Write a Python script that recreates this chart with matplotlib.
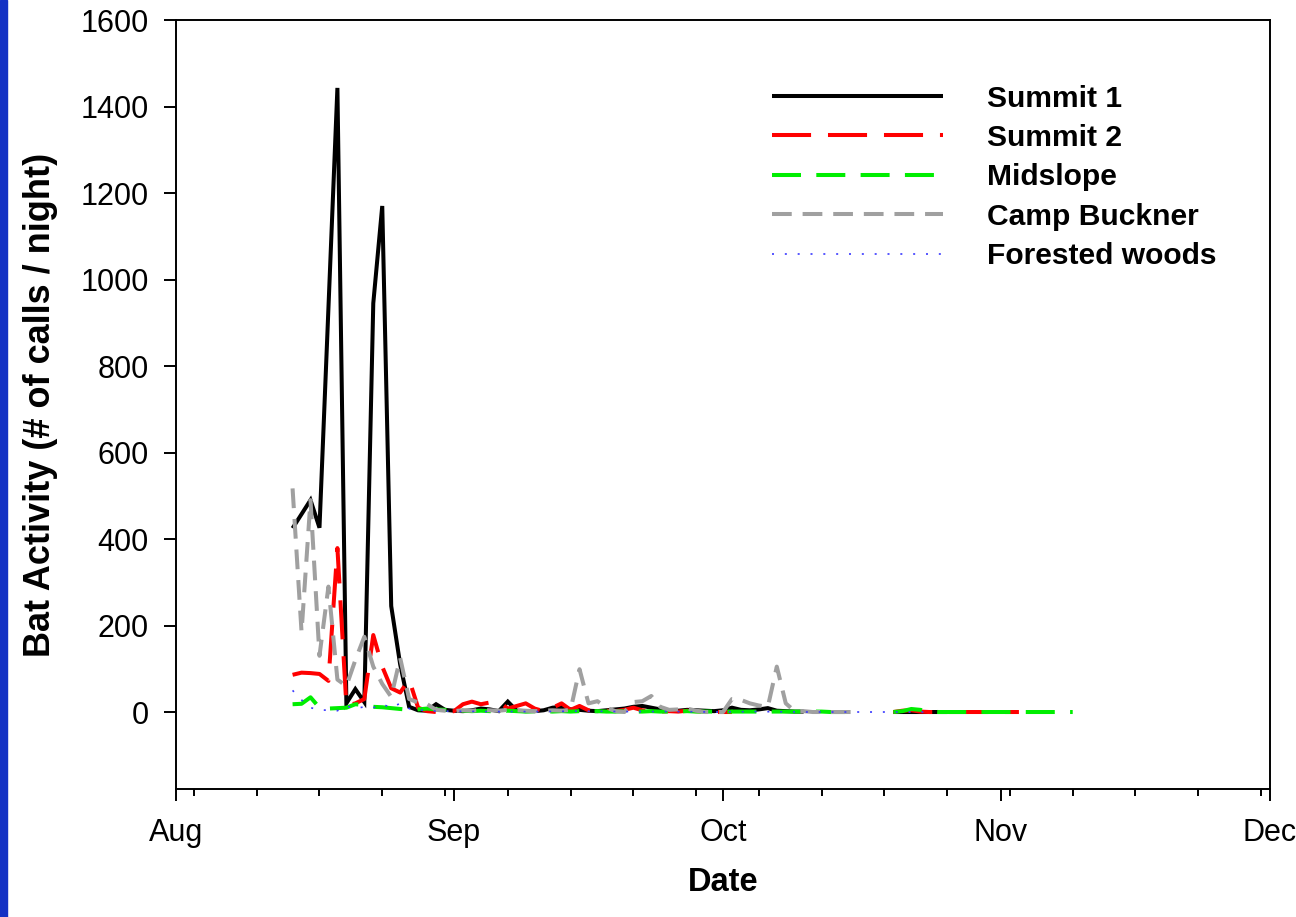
import matplotlib
matplotlib.use('Agg')
import matplotlib.pyplot as plt
import matplotlib.dates as mdates
from matplotlib.patches import Rectangle
import numpy as np
import pandas as pd

plt.rcParams['font.family'] = ['Liberation Sans', 'DejaVu Sans']

YEAR = 2008
NA = np.nan

# ---------------- data (date "MM-DD", value) ----------------
s1_dates = ["08-14", "08-16", "08-17", "08-19", "08-20", "08-21", "08-22", "08-23", "08-24", "08-25",
            "08-26", "08-27", "08-28", "08-29", "08-30", "08-31",
            "09-01", "09-02", "09-03", "09-04", "09-05", "09-06", "09-07", "09-08", "09-09", "09-10",
            "09-11", "09-12", "09-13", "09-14", "09-15", "09-16", "09-17", "09-18", "09-19", "09-20",
            "09-21", "09-22", "09-23", "09-24", "09-25", "09-26", "09-27", "09-28", "09-29", "09-30",
            "10-01", "10-02", "10-03", "10-04", "10-05", "10-06", "10-07", "10-08", "10-09", "10-10",
            "10-15",
            "10-20", "10-21", "10-22", "10-23", "10-24", "10-25", "10-26"]
s1_vals = [425, 490, 426, 1443, 20, 53, 23, 945, 1170, 245,
           110, 12, 4, 3, 18, 5,
           3, 2, 4, 8, 6, 2, 24, 3, 2, 2,
           4, 10, 12, 6, 5, 3, 2, 4, 6, 8,
           12, 14, 10, 6, 4, 3, 5, 4, 3, 2,
           4, 10, 5, 4, 6, 9, 3, 2, 1, 1,
           NA,
           0, 0, 0, 0, 0, 0, 0]

s2_dates = ["08-14", "08-15", "08-16", "08-17", "08-18", "08-19", "08-20", "08-21", "08-22", "08-23",
            "08-24", "08-25", "08-26", "08-27", "08-28", "08-29", "08-30", "08-31",
            "09-01", "09-02", "09-03", "09-04", "09-05", "09-06", "09-07", "09-08", "09-09", "09-10",
            "09-11", "09-12", "09-13", "09-14", "09-15", "09-16", "09-17", "09-18", "09-19", "09-20",
            "09-21", "09-22", "09-23", "09-24", "09-25", "09-26", "09-27", "09-28", "09-29", "09-30",
            "10-01", "10-02",
            "10-10",
            "10-20", "10-21", "10-22", "10-23", "10-24", "10-25", "10-26", "10-27", "10-28", "10-29",
            "10-30", "10-31", "11-01", "11-02", "11-03"]
s2_vals = [86, 91, 90, 88, 72, 379, 15, 20, 30, 178,
           105, 55, 45, 75, 10, 2, 0, 0,
           2, 18, 24, 18, 22, 24, 8, 14, 20, 8,
           2, 10, 20, 5, 14, 4, 2, 3, 2, 5,
           10, 4, 2, 1, 2, 1, 3, 2, 1, 0,
           0, 0,
           NA,
           0, 3, 4, 1, 0, 0, 0, 0, 0, 0,
           0, 0, 0, 0, 0]

mid_dates = ["08-14", "08-15", "08-16", "08-17", "08-18", "08-19", "08-20", "08-21", "08-22", "08-23",
             "08-24", "08-25", "08-26", "08-27", "08-28", "08-29", "08-30", "08-31",
             "09-01", "09-02", "09-03", "09-04", "09-05", "09-06", "09-07", "09-08", "09-09", "09-10",
             "09-11", "09-12", "09-13", "09-14", "09-15", "09-16", "09-17", "09-18", "09-19", "09-20",
             "09-21", "09-22", "09-23", "09-24", "09-25", "09-26", "09-27", "09-28", "09-29", "09-30",
             "10-01", "10-02", "10-03", "10-04", "10-05", "10-06", "10-07", "10-08", "10-09", "10-10",
             "10-11", "10-12", "10-13", "10-14", "10-15",
             "10-17",
             "10-20", "10-21", "10-22", "10-23", "10-24", "10-25", "10-26", "10-27", "10-28", "10-29",
             "10-30", "10-31", "11-01", "11-02", "11-03", "11-04", "11-05", "11-06", "11-07", "11-08",
             "11-09"]
mid_vals = [18, 19, 34, 10, 8, 9, 10, 18, 16, 12,
            11, 9, 7, 5, 6, 8, 6, 5,
            4, 3, 2, 3, 2, 2, 3, 2, 1, 2,
            2, 1, 2, 1, 2, 1, 2, 1, 1, 2,
            1, 1, 2, 1, 1, 1, 2, 1, 1, 1,
            1, 1, 1, 1, 1, 1, 1, 1, 1, 1,
            1, 1, 0, 0, 0,
            NA,
            0, 2, 7, 5, 1, 0, 0, 0, 0, 0,
            0, 0, 0, 0, 0, 0, 0, 0, 0, 0,
            0]

cb_dates = ["08-14", "08-15", "08-16", "08-17", "08-18", "08-19", "08-20", "08-21", "08-22", "08-23",
            "08-24", "08-25", "08-26", "08-27", "08-28", "08-29", "08-30", "08-31",
            "09-01", "09-02", "09-03", "09-04", "09-05", "09-06", "09-07", "09-08", "09-09", "09-10",
            "09-11", "09-12", "09-13", "09-14", "09-15", "09-16", "09-17", "09-18", "09-19", "09-20",
            "09-21", "09-22", "09-23", "09-24", "09-25", "09-26", "09-27", "09-28", "09-29", "09-30",
            "10-01", "10-02", "10-03", "10-04", "10-05", "10-06", "10-07", "10-08", "10-09", "10-10",
            "10-11", "10-12", "10-13", "10-14", "10-15", "10-16"]
cb_vals = [517, 185, 490, 130, 290, 75, 60, 120, 174, 105,
           65, 35, 125, 30, 22, 18, 5, 3,
           2, 4, 3, 5, 4, 3, 5, 4, 3, 2,
           3, 4, 3, 5, 99, 20, 25, 10, 2, 0,
           23, 25, 37, 12, 5, 6, 8, 3, 0, 0,
           0, 30, 28, 20, 15, 12, 105, 20, 2, 2,
           0, 0, 0, 0, 0, 0]

fw_dates = ["08-14", "08-15", "08-16", "08-17", "08-18", "08-19", "08-20", "08-21", "08-22", "08-23",
            "08-24", "08-25", "08-26", "08-27", "08-28", "08-29", "08-30", "08-31",
            "09-05", "09-10", "09-15", "09-20", "09-25", "09-30", "10-05", "10-10", "10-15", "10-20",
            "10-24"]
fw_vals = [50, 28, 10, 5, 4, 3, 14, 8, 12, 10,
           18, 10, 20, 8, 5, 3, 2, 2,
           1, 1, 2, 1, 1, 0, 1, 0, 0, 0,
           0]

labels = ["Summit 1", "Summit 2", "Midslope", "Camp Buckner", "Forested woods"]
x_ticklabels_fmt = '%b'
y_ticks = [0, 200, 400, 600, 800, 1000, 1200, 1400, 1600]


def to_dt(md):
    return pd.to_datetime([f"{YEAR}-{s}" for s in md])


fig = plt.figure(figsize=(12.96, 9.17), dpi=100)
ax = fig.add_axes([176 / 1296, 1 - 789 / 917, (1270 - 176) / 1296, (789 - 20) / 917])

lw = 2.9
ax.plot(to_dt(s1_dates), s1_vals, color='black', lw=lw, solid_capstyle='butt',
        solid_joinstyle='miter', label=labels[0])
ax.plot(to_dt(s2_dates), s2_vals, color='#ff0000', lw=lw, ls=(0, (9.7, 4.2)), label=labels[1])
ax.plot(to_dt(mid_dates), mid_vals, color='#00ee00', lw=lw, ls=(0, (7.2, 3.8)), label=labels[2])
ax.plot(to_dt(cb_dates), cb_vals, color='#a0a0a0', lw=lw, ls=(0, (4.9, 2.7)), label=labels[3])
ax.plot(to_dt(fw_dates), fw_vals, color='#3a3aff', lw=1.2, ls=(0, (1.2, 6.5)), label=labels[4])

ax.set_xlim(pd.Timestamp(f"{YEAR}-08-01"), pd.Timestamp(f"{YEAR}-12-01"))
ax.set_ylim(-178, 1600)
ax.set_yticks(y_ticks)
ax.xaxis.set_major_locator(mdates.MonthLocator())
ax.xaxis.set_major_formatter(mdates.DateFormatter(x_ticklabels_fmt))
ax.xaxis.set_minor_locator(mdates.WeekdayLocator(byweekday=mdates.SU))

for sp in ax.spines.values():
    sp.set_linewidth(1.4)
ax.tick_params(axis='both', which='major', length=8.6, width=1.4, direction='out',
               labelsize=22, pad=11)
ax.tick_params(axis='x', which='minor', length=5, width=1.4, direction='out')
ax.tick_params(axis='x', which='major', pad=12)

ax.set_xlabel('Date', fontsize=23.5, fontweight='bold', labelpad=14)
ax.set_ylabel('Bat Activity (# of calls / night)', fontsize=26, fontweight='bold', labelpad=16)

leg = ax.legend(loc='upper left', bbox_to_anchor=(0.5448, 0.916), frameon=False,
                prop={'weight': 'bold', 'size': 21.6}, handlelength=5.7,
                handletextpad=1.45, labelspacing=0.38, borderpad=0, borderaxespad=0)

fig.patches.append(Rectangle((0, 0), 7 / 1296, 1, transform=fig.transFigure,
                             color='#1432c4', zorder=10))

fig.savefig('out.png', dpi=100)
